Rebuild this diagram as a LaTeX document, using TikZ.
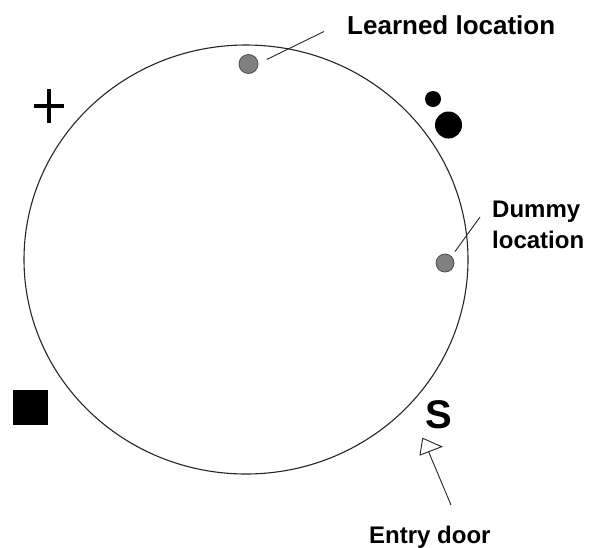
\documentclass[tikz,border=0pt]{standalone}
\usepackage{fontspec}
\setmainfont{Liberation Sans}
\begin{document}
\begin{tikzpicture}[x=1pt,y=-1pt,
  lbl/.style={font=\bfseries\fontsize{24}{31}\selectfont, inner sep=0pt, align=left},
  graydot/.style={circle, fill=black!50, draw=black!70, line width=0.8pt, inner sep=0pt, minimum size=#1},
  blackdot/.style={circle, fill=black, inner sep=0pt, minimum size=#1},
  leader/.style={line width=0.9pt, black!85}]
\useasboundingbox (0,0) rectangle (594,547);
% arena
\draw[line width=1.1pt, black!85] (246,259.5) ellipse [x radius=222, y radius=214.5];
% locations
\node[graydot=19pt] (learned) at (248.5,64) {};
\node[graydot=18pt] (dummy) at (445,263) {};
% cues
\node[blackdot=16pt] (smalldot) at (433,99) {};
\node[blackdot=27pt] (bigdot) at (448.5,125) {};
\node[fill=black, inner sep=0pt, minimum size=35pt] (square) at (30.8,407) {};
\coordinate (plus) at (49,105.5);
\draw[line width=4pt] ([xshift=-15pt]plus) -- ([xshift=15pt]plus);
\draw[line width=4pt] ([yshift=-17pt]plus) -- ([yshift=17pt]plus);
\node[font=\bfseries\fontsize{40}{40}\selectfont, inner sep=0pt] (start) at (438.5,414.5) {S};
% labels
\node[lbl, font=\bfseries\fontsize{26}{31}\selectfont, anchor=base west] (learnedlbl) at (347,34) {Learned location};
\node[lbl, anchor=base west] (dummylbl) at (492,248) {Dummy\\location};
\node[lbl, anchor=base west] (entrylbl) at (369,543) {Entry door};
% leaders
\coordinate (l1) at (266.7,59.5);
\coordinate (l2) at (324,31.5);
\draw[leader] (l1) -- (l2);
\coordinate (d1) at (455,251.5);
\coordinate (d2) at (480,217);
\draw[leader] (d1) -- (d2);
\coordinate (e1) at (451,505);
\coordinate (e2) at (428.5,451.5);
\draw[leader] (e1) -- (e2);
\coordinate (t1) at (422.7,438.3);
\coordinate (t2) at (420,455);
\coordinate (t3) at (441.7,446.7);
\draw[leader, fill=white, line join=miter] (t1) -- (t2) -- (t3) -- cycle;
\end{tikzpicture}
\end{document}
